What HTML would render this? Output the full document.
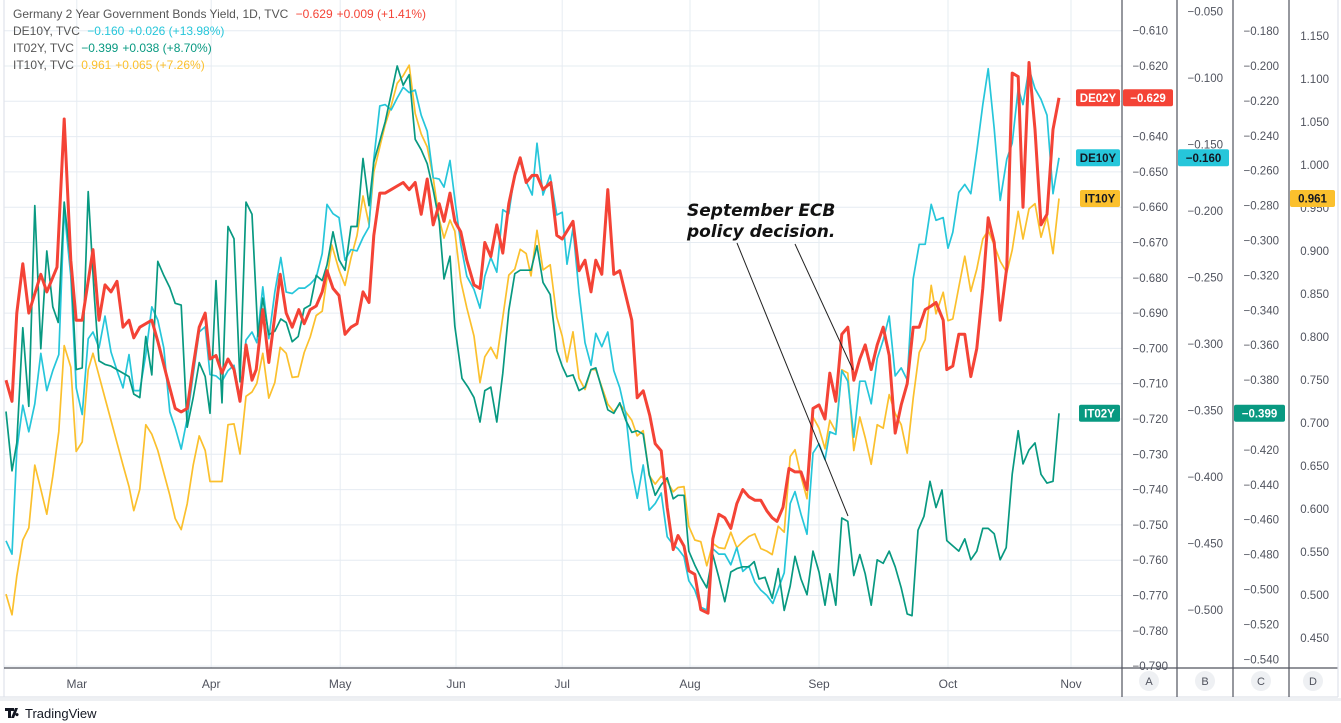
<!DOCTYPE html>
<html><head><meta charset="utf-8"><style>
html,body{margin:0;padding:0;background:#fff;}
svg{display:block;font-family:"Liberation Sans",sans-serif;}
</style></head><body>
<svg id="chart" width="1341" height="723" viewBox="0 0 1341 723" xmlns="http://www.w3.org/2000/svg">
<g id="grid"></g>
<g id="series"></g>
<g id="axes"></g>
<g id="legend">
<text x="13" y="18" font-size="12" fill="#555">Germany 2 Year Government Bonds Yield, 1D, TVC <tspan fill="#f44336" dx="4">−0.629</tspan><tspan fill="#f44336" dx="4">+0.009 (+1.41%)</tspan></text>
<text x="13" y="35" font-size="12" fill="#555">DE10Y, TVC <tspan fill="#26c6da" dx="4">−0.160</tspan><tspan fill="#26c6da" dx="4">+0.026 (+13.98%)</tspan></text>
<text x="13" y="52" font-size="12" fill="#555">IT02Y, TVC <tspan fill="#089981" dx="4">−0.399</tspan><tspan fill="#089981" dx="4">+0.038 (+8.70%)</tspan></text>
<text x="13" y="69" font-size="12" fill="#555">IT10Y, TVC <tspan fill="#fbc02d" dx="4">0.961</tspan><tspan fill="#fbc02d" dx="4">+0.065 (+7.26%)</tspan></text>
</g>
<g id="annotation">
<text x="687" y="216" font-family="DejaVu Sans, sans-serif" font-style="italic" font-weight="bold" font-size="17" fill="#111">September ECB</text>
<text x="687" y="237" font-family="DejaVu Sans, sans-serif" font-style="italic" font-weight="bold" font-size="17" fill="#111">policy decision.</text>
<line x1="737" y1="243" x2="848" y2="516" stroke="#222" stroke-width="1"/>
<line x1="795" y1="244" x2="853" y2="370" stroke="#222" stroke-width="1"/>
</g>
<g id="logo">
<path d="M5 708 h9 v3 h-3 v7 h-3 v-7 h-3 z M15 708 h3 l-4 10 h-3 z M17 713 a1.6 1.6 0 1 0 0.01 0z" fill="#131722"/>
<text x="25" y="718" font-size="13" fill="#131722">TradingView</text>
</g>
</svg>
<script>
const deT=[0,1,1.8,2.8,3.8,5.8,6.8,8.5,9.7,10.8,11.7,12.7,14.5,15.5,16.5,17.5,18.5,19.5,20.5,21.3,22.3,23.3,24.3,25.3,26.8,28.2,29.2,30.2,31.2,32.2,33.2,34,35,36,37,38,39,40,41,41.7,42.8,43.8,45.7,46.7,47.7,48.8,49.7,50.7,51.7,52.7,53.5,54.5,55.5,56.5,57.5,58.5,59.5,60.5,61.3,62.3,63.2,64.2,65.2,66.2,67.2,68.2,69.2,70.2,71.2,72.2,73,74,74.8,75.8,76.8,78,79,79.8,80.8,81.8,82.8,83.8,84.8,85.7,86.7,87.7,88.5,89.5,90.8,91.8,92.7,94.5,95.5,96.5,97.5,98.3,99.3,100.3,101.3,102.3,104.3,105.2,106.2,107.3,108.2,109.2,110.2,111.2,112,113,113.8,114.8,115.8,117,117.8,118.8,119.8,120.8,121.8,122.8,123.8,124.8,125.8,126.8,127.7,128.5,129.5,130.5,131.5,132.5,133.5,134.5,135.5,136.5,137.3,138.3,139.3,140.3,141.3,142.3,143.2,144.2,145.2,146.2,147.2,148.2,149.2,150.2,151.2,152.2,153.2,154.2,155,156.2,156.8,157.8,158.8,159.8,160.8,161.8,162.8,163.7,164.7,165.7,166.8,167.7,168.7,169.5,170.5,171.5,172.5,173.5,174.5,175.5];
const de02Vals=[-0.709,-0.715,-0.690,-0.676,-0.690,-0.679,-0.684,-0.677,-0.635,-0.675,-0.692,-0.692,-0.672,-0.692,-0.682,-0.684,-0.681,-0.694,-0.692,-0.697,-0.694,-0.693,-0.692,-0.698,-0.708,-0.717,-0.718,-0.717,-0.705,-0.694,-0.690,-0.703,-0.702,-0.707,-0.703,-0.706,-0.715,-0.699,-0.709,-0.706,-0.689,-0.704,-0.679,-0.690,-0.694,-0.689,-0.693,-0.689,-0.688,-0.684,-0.678,-0.683,-0.685,-0.696,-0.694,-0.693,-0.684,-0.687,-0.668,-0.656,-0.656,-0.655,-0.654,-0.653,-0.655,-0.653,-0.662,-0.652,-0.665,-0.659,-0.664,-0.656,-0.664,-0.667,-0.675,-0.682,-0.683,-0.670,-0.674,-0.665,-0.673,-0.659,-0.651,-0.646,-0.653,-0.651,-0.651,-0.655,-0.653,-0.668,-0.669,-0.664,-0.678,-0.675,-0.684,-0.675,-0.679,-0.655,-0.679,-0.678,-0.692,-0.714,-0.712,-0.719,-0.727,-0.729,-0.745,-0.757,-0.753,-0.756,-0.763,-0.764,-0.774,-0.775,-0.754,-0.747,-0.748,-0.751,-0.744,-0.740,-0.742,-0.743,-0.743,-0.746,-0.748,-0.749,-0.745,-0.734,-0.735,-0.735,-0.740,-0.717,-0.716,-0.720,-0.707,-0.715,-0.696,-0.694,-0.709,-0.703,-0.699,-0.706,-0.699,-0.694,-0.702,-0.724,-0.716,-0.710,-0.694,-0.694,-0.689,-0.688,-0.687,-0.692,-0.706,-0.705,-0.696,-0.696,-0.708,-0.700,-0.683,-0.663,-0.670,-0.692,-0.677,-0.622,-0.623,-0.660,-0.619,-0.638,-0.665,-0.662,-0.638,-0.629];

const de10T=[0,1,1.8,2.8,3.8,4.8,5.8,6.8,7.8,8.8,9.7,10.8,11.7,12.7,13.7,14.5,15.5,16.5,17.5,18.5,19.5,20.5,21.3,22.3,23.3,24.3,25.3,26.3,27.3,28.2,29.2,30.2,31.2,32.2,33.2,34,35,36,37,38,39,40,41,41.8,42.8,43.8,44.8,45.8,46.7,47.7,48.8,49.8,50.7,51.7,52.7,53.5,54.5,55.5,56.5,57.5,58.5,59.5,60.5,61.3,62.3,63.2,64.2,65.2,66.2,67.2,68.2,69.2,70.2,71.2,72.2,73,74,74.8,75.8,76.8,78,79,79.8,80.8,81.8,82.8,83.8,84.8,85.7,86.7,87.7,88.5,89.5,90.7,91.8,92.7,93.5,94.5,95.5,96.5,97.5,98.3,99.3,100.3,101.3,102.3,103.3,104.3,105.2,106.2,107.2,108.2,109.2,110.2,111.2,112,113,113.8,114.8,115.8,116.8,117.8,118.8,119.8,120.8,121.8,122.8,123.8,124.8,125.8,126.8,127.8,128.8,129.7,130.7,131.5,132.5,133.5,134.5,135.5,136.5,137.3,138.3,139.3,140.3,141.3,142.3,143.2,144.2,145.2,146.2,147.2,148.2,149.2,150.2,151.2,152.2,153.2,154.2,155,156.2,157,157.8,158.8,159.8,160.8,161.8,162.8,163.7,164.7,165.7,166.8,167.7,168.7,169.5,170.5,171.5,172.5,173.5,174.5,175.5];
const de10Vals=[-0.448,-0.458,-0.380,-0.346,-0.366,-0.345,-0.307,-0.335,-0.320,-0.308,-0.199,-0.249,-0.333,-0.353,-0.296,-0.291,-0.303,-0.279,-0.306,-0.320,-0.333,-0.308,-0.335,-0.335,-0.308,-0.272,-0.282,-0.303,-0.351,-0.363,-0.379,-0.356,-0.323,-0.291,-0.287,-0.323,-0.324,-0.328,-0.320,-0.316,-0.341,-0.297,-0.291,-0.299,-0.257,-0.296,-0.261,-0.235,-0.261,-0.262,-0.258,-0.258,-0.255,-0.250,-0.232,-0.195,-0.202,-0.205,-0.237,-0.229,-0.230,-0.220,-0.212,-0.161,-0.121,-0.120,-0.124,-0.115,-0.107,-0.111,-0.109,-0.128,-0.140,-0.175,-0.176,-0.182,-0.162,-0.191,-0.225,-0.249,-0.259,-0.273,-0.249,-0.235,-0.246,-0.199,-0.202,-0.171,-0.163,-0.178,-0.188,-0.149,-0.188,-0.173,-0.203,-0.201,-0.240,-0.213,-0.261,-0.299,-0.316,-0.292,-0.302,-0.291,-0.320,-0.333,-0.353,-0.395,-0.416,-0.391,-0.425,-0.420,-0.412,-0.445,-0.451,-0.454,-0.460,-0.478,-0.485,-0.498,-0.500,-0.454,-0.458,-0.458,-0.466,-0.453,-0.471,-0.467,-0.479,-0.485,-0.489,-0.495,-0.483,-0.472,-0.420,-0.411,-0.428,-0.443,-0.382,-0.375,-0.387,-0.366,-0.368,-0.320,-0.328,-0.370,-0.328,-0.328,-0.345,-0.311,-0.297,-0.279,-0.324,-0.318,-0.327,-0.251,-0.225,-0.225,-0.195,-0.207,-0.205,-0.228,-0.216,-0.186,-0.180,-0.187,-0.155,-0.120,-0.093,-0.138,-0.192,-0.161,-0.149,-0.108,-0.120,-0.093,-0.108,-0.116,-0.128,-0.187,-0.160];

const it02T=[0,1,1.8,2.8,3.8,4.8,5.8,6.8,7.8,8.7,9.7,10.8,11.7,12.7,13.7,14.7,15.5,16.5,17.5,18.5,19.5,20.5,21.3,22.3,23.3,24.3,25.3,26.3,27.3,28.2,29.2,30.2,31.2,32.2,33.2,34,35,36,37,38,39,40,41,42,42.8,43.8,44.8,45.8,46.7,47.7,48.7,49.7,50.7,51.7,52.7,53.5,54.5,55.5,56.5,57.5,58.5,59.5,60.5,61.3,62.3,63.2,64.2,65.2,66.2,67.2,68.2,69.2,70.2,71.2,72.2,73,74,74.8,76,77,78,79,79.8,80.8,81.8,82.8,83.8,84.8,85.7,86.7,87.5,88.5,89.5,90.7,91.8,92.7,93.5,94.5,95.5,96.5,97.5,98.3,99.3,100.3,101.3,102.3,103.3,104.3,105.2,106.2,107.2,108.2,109.2,110.2,111.2,112,113,113.8,114.8,115.8,116.8,117.8,118.8,119.8,120.8,121.8,122.8,123.8,124.7,125.5,126.5,127.7,128.7,129.7,130.7,131.5,132.5,133.5,134.5,135.5,136.5,137.3,138.3,139.3,140.3,141.3,142.3,143.2,144.2,145.2,146.2,147.2,148.2,149.2,150.2,151,152,153,154,155,156,156.8,157.8,158.8,159.8,160.8,161.8,162.8,163.7,164.7,165.7,166.7,167.7,168.7,169.5,170.5,171.5,172.5,173.5,174.5,175.5];
const it02Vals=[-0.398,-0.432,-0.416,-0.350,-0.395,-0.280,-0.362,-0.306,-0.338,-0.347,-0.278,-0.313,-0.374,-0.373,-0.272,-0.331,-0.369,-0.371,-0.372,-0.374,-0.376,-0.378,-0.388,-0.390,-0.355,-0.377,-0.312,-0.320,-0.327,-0.336,-0.337,-0.407,-0.390,-0.370,-0.378,-0.399,-0.323,-0.393,-0.292,-0.299,-0.381,-0.278,-0.285,-0.355,-0.333,-0.354,-0.352,-0.345,-0.347,-0.358,-0.355,-0.339,-0.337,-0.320,-0.323,-0.314,-0.295,-0.311,-0.317,-0.292,-0.292,-0.253,-0.280,-0.255,-0.243,-0.232,-0.216,-0.200,-0.211,-0.205,-0.242,-0.248,-0.256,-0.271,-0.289,-0.322,-0.309,-0.349,-0.379,-0.384,-0.390,-0.404,-0.386,-0.384,-0.404,-0.376,-0.340,-0.319,-0.317,-0.317,-0.317,-0.303,-0.324,-0.331,-0.363,-0.372,-0.378,-0.377,-0.386,-0.384,-0.374,-0.373,-0.385,-0.397,-0.399,-0.393,-0.403,-0.410,-0.409,-0.411,-0.434,-0.446,-0.440,-0.436,-0.448,-0.446,-0.446,-0.478,-0.486,-0.493,-0.499,-0.480,-0.493,-0.507,-0.490,-0.488,-0.487,-0.487,-0.484,-0.494,-0.493,-0.505,-0.488,-0.512,-0.498,-0.481,-0.494,-0.503,-0.478,-0.490,-0.509,-0.491,-0.509,-0.459,-0.461,-0.492,-0.480,-0.491,-0.509,-0.483,-0.485,-0.478,-0.487,-0.499,-0.514,-0.515,-0.466,-0.458,-0.438,-0.453,-0.443,-0.472,-0.475,-0.478,-0.471,-0.483,-0.478,-0.465,-0.465,-0.468,-0.483,-0.476,-0.434,-0.409,-0.428,-0.420,-0.416,-0.434,-0.439,-0.438,-0.399];

const it10T=[0,1,1.8,2.8,3.8,4.8,5.8,6.8,7.8,8.8,9.7,10.8,11.7,12.7,13.7,14.5,15.5,16.5,17.5,18.5,19.5,20.5,21.3,22.3,23.3,24.3,25.3,26.3,27.3,28.2,29.2,30.2,31.2,32.2,33.2,34,35,36,37,38,39,40,41,41.8,42.8,43.8,44.8,45.7,46.7,47.7,48.7,49.7,50.7,51.7,52.7,54.3,55.5,56.5,57.5,58.5,59.5,60.5,61.3,62.3,63.2,64.2,65.2,66.2,67.2,68.2,69.2,70.2,71.2,72.2,73,74,74.8,75.8,76.8,78,79,79.8,80.8,81.8,82.8,83.8,84.8,85.7,86.7,87.5,88.5,89.5,90.7,91.8,92.7,93.5,94.5,95.5,96.5,97.5,98.3,99.3,100.3,101.3,102.3,103.3,104.3,105.2,106.2,107.2,108.2,109.2,110.2,111.2,112,113,113.8,114.8,115.8,116.8,117.8,118.8,119.8,120.8,121.8,122.8,123.8,124.8,125.8,126.8,127.7,128.7,129.7,130.7,131.5,132.5,133.5,134.5,135.5,136.5,137.3,138.3,139.3,140.3,141.3,142.3,143.2,144.2,145.2,146.2,147.2,148.2,149.2,150.2,151.2,152.2,153.2,154.2,155,156.2,157,157.8,158.8,159.8,160.8,161.8,162.8,163.7,164.7,165.7,166.8,167.7,168.7,169.5,170.5,171.5,172.5,173.5,174.5,175.5];
const it10Vals=[0.501,0.477,0.522,0.564,0.578,0.651,0.623,0.594,0.638,0.690,0.790,0.765,0.667,0.678,0.762,0.781,0.755,0.729,0.703,0.677,0.651,0.626,0.598,0.623,0.698,0.687,0.668,0.642,0.616,0.589,0.576,0.606,0.651,0.685,0.668,0.632,0.632,0.632,0.698,0.699,0.664,0.731,0.736,0.746,0.781,0.729,0.747,0.788,0.781,0.753,0.754,0.782,0.800,0.825,0.830,0.907,0.878,0.860,0.892,0.918,0.964,0.931,0.992,1.021,1.047,1.069,1.095,1.104,1.116,1.060,1.036,1.021,0.985,0.937,0.915,0.936,0.923,0.865,0.834,0.801,0.747,0.777,0.788,0.775,0.823,0.872,0.879,0.902,0.897,0.871,0.924,0.878,0.884,0.823,0.801,0.771,0.806,0.752,0.739,0.762,0.762,0.742,0.722,0.713,0.722,0.713,0.703,0.685,0.691,0.639,0.629,0.638,0.632,0.620,0.625,0.626,0.580,0.564,0.562,0.534,0.560,0.555,0.554,0.573,0.555,0.562,0.568,0.571,0.554,0.551,0.547,0.580,0.573,0.661,0.669,0.638,0.612,0.707,0.694,0.670,0.703,0.690,0.762,0.758,0.668,0.707,0.683,0.652,0.698,0.694,0.733,0.711,0.698,0.665,0.729,0.782,0.797,0.860,0.827,0.852,0.819,0.821,0.858,0.894,0.853,0.879,0.914,0.924,0.907,0.888,0.875,0.901,0.946,0.914,0.949,0.955,0.916,0.940,0.897,0.961];

const monthLabels=["Mar","Apr","May","Jun","Jul","Aug","Sep","Oct","Nov"];
const monthT=[11.8,34.2,55.7,75,92.7,114,135.5,157,177.5];
const ticksA=[-0.61,-0.62,-0.63,-0.64,-0.65,-0.66,-0.67,-0.68,-0.69,-0.70,-0.71,-0.72,-0.73,-0.74,-0.75,-0.76,-0.77,-0.78,-0.79];
const ticksB=[-0.05,-0.10,-0.15,-0.20,-0.25,-0.30,-0.35,-0.40,-0.45,-0.50];
const ticksC=[-0.18,-0.20,-0.22,-0.24,-0.26,-0.28,-0.30,-0.32,-0.34,-0.36,-0.38,-0.40,-0.42,-0.44,-0.46,-0.48,-0.50,-0.52,-0.54];
const ticksD=[1.15,1.10,1.05,1.00,0.95,0.90,0.85,0.80,0.75,0.70,0.65,0.60,0.55,0.50,0.45];

const NS="http://www.w3.org/2000/svg";
const xS=t=>6+6*t;
const yA=v=>66+(-0.62-v)*3530;
const yB=v=>78+(-0.10-v)*1330;
const yC=v=>66+(-0.20-v)*1745;
const yD=v=>79+(1.10-v)*860;
function mk(tag,attrs,parent){const e=document.createElementNS(NS,tag);for(const k in attrs)e.setAttribute(k,attrs[k]);parent.appendChild(e);return e;}
const fmt=(v,d)=>(v<0?"−":"")+Math.abs(v).toFixed(d);

const grid=document.getElementById('grid');
const axes=document.getElementById('axes');
const series=document.getElementById('series');

// horizontal grid
ticksA.forEach(v=>{const y=yA(v);if(y<668){const l=mk('line',{x1:4,x2:1122,y1:y,y2:y,stroke:'#e6ecf2','stroke-width':1},grid);

}});
// vertical grid + month labels
monthT.forEach((t,i)=>{const x=xS(t);const l=mk('line',{x1:x,x2:x,y1:0,y2:668,stroke:'#e6ecf2','stroke-width':1},grid);


const tx=mk('text',{x:x,y:688,'font-size':12,fill:'#50535e','text-anchor':'middle'},axes);tx.textContent=monthLabels[i];

});

// frame lines
[[4,0,4,697,'#e0e3eb'],[0,697,1338,697,'#e0e3eb'],[4,668,1338,668,'#50535e'],[1122,0,1122,697,'#50535e'],[1177,0,1177,697,'#50535e'],[1233,0,1233,697,'#50535e'],[1289,0,1289,697,'#50535e'],[1338,0,1338,697,'#e0e3eb']].forEach(a=>{
const l=mk('line',{x1:a[0],y1:a[1],x2:a[2],y2:a[3],stroke:a[4],'stroke-width':1.2},axes);

});
mk('rect',{x:0,y:698,width:1341,height:3,fill:'#eef0f3'},axes);

function axisTicks(ticks,yf,xr,dec){ticks.forEach(v=>{const y=yf(v);if(y>4&&y<668){const t=mk('text',{x:xr,y:y+4,'font-size':11.5,fill:'#50535e','text-anchor':'end'},axes);t.textContent=fmt(v,3);

}});}
axisTicks(ticksA,yA,1168);
axisTicks(ticksB,yB,1223);
axisTicks(ticksC,yC,1279);
axisTicks(ticksD,yD,1329);

['A','B','C','D'].forEach((s,i)=>{const cx=[1149,1205,1261,1313][i];
const c=mk('circle',{cx:cx,cy:681,r:10,fill:'#eef0f3'},axes);


const t=mk('text',{x:cx,y:685,'font-size':11,fill:'#50535e','text-anchor':'middle'},axes);t.textContent=s;});

function drawLine(T,V,yf,color,w,name){const n=Math.min(T.length,V.length);let d='';
for(let i=0;i<n;i++){d+=(i?'L':'M')+xS(T[i]).toFixed(1)+' '+yf(V[i]).toFixed(1);}
const p=mk('path',{d:d,fill:'none',stroke:color,'stroke-width':w,'stroke-linejoin':'round'},series);

}
drawLine(it10T,it10Vals,yD,'#fbc02d',1.7,'it10y-line');
drawLine(de10T,de10Vals,yB,'#26c6da',1.7,'de10y-line');
drawLine(it02T,it02Vals,yC,'#089981',1.7,'it02y-line');
drawLine(deT,de02Vals,yA,'#f44336',3,'de02y-line');

function badge(x,y,w,text,bg,fg,name){const g=mk('g',{},axes);


mk('rect',{x:x,y:y-8.5,width:w,height:17,rx:2,fill:bg},g);
const t=mk('text',{x:x+w/2,y:y+4,'font-size':11.5,fill:fg,'text-anchor':'middle','font-weight':'bold'},g);t.textContent=text;}
const lastDe02=de02Vals[de02Vals.length-1],lastDe10=de10Vals[de10Vals.length-1],lastIt02=it02Vals[it02Vals.length-1],lastIt10=it10Vals[it10Vals.length-1];
badge(1076,yA(lastDe02),44,'DE02Y','#f44336','#fff','de02y-name-badge');
badge(1123,yA(lastDe02),50,fmt(lastDe02,3),'#f44336','#fff','de02y-value-badge');
badge(1076,yB(lastDe10),44,'DE10Y','#26c6da','#131722','de10y-name-badge');
badge(1178,yB(lastDe10),51,fmt(lastDe10,3),'#26c6da','#131722','de10y-value-badge');
badge(1080,yD(lastIt10),40,'IT10Y','#fbc02d','#131722','it10y-name-badge');
badge(1290,yD(lastIt10),45,fmt(lastIt10,3),'#fbc02d','#131722','it10y-value-badge');
badge(1079,yC(lastIt02),41,'IT02Y','#089981','#fff','it02y-name-badge');
badge(1234,yC(lastIt02),51,fmt(lastIt02,3),'#089981','#fff','it02y-value-badge');
</script>
</body></html>
